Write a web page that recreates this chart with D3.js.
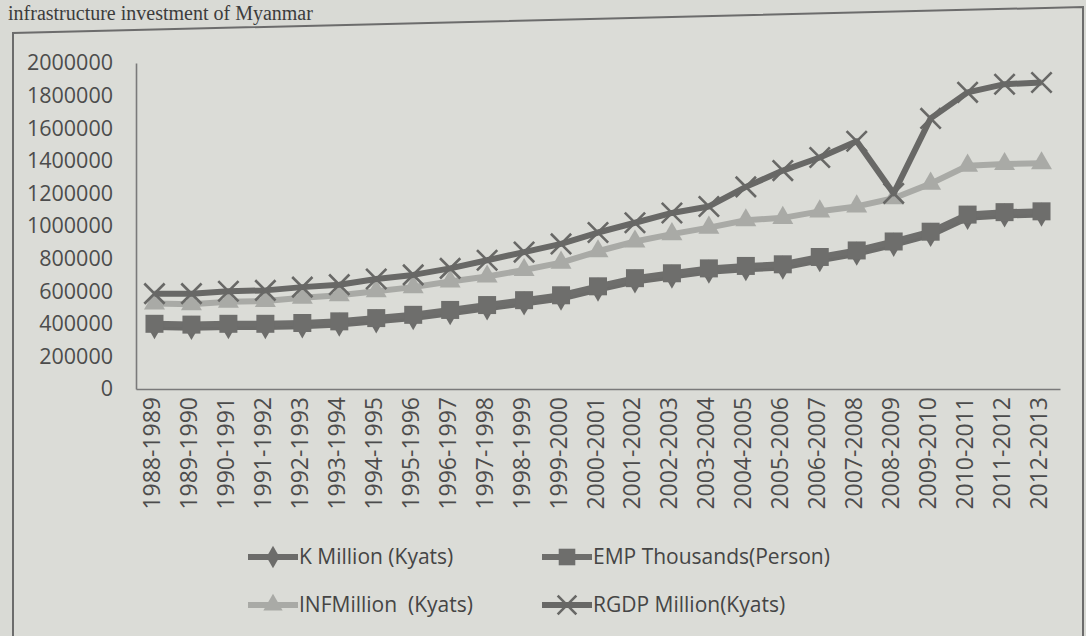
<!DOCTYPE html>
<html>
<head>
<meta charset="utf-8">
<script src="https://cdn.jsdelivr.net/npm/d3@7"></script>
<style>
  html, body { margin: 0; padding: 0; background: #d8d9d4; }
  svg { display: block; }
</style>
</head>
<body>
<script>
const categories = ["1988-1989","1989-1990","1990-1991","1991-1992","1992-1993","1993-1994","1994-1995","1995-1996","1996-1997","1997-1998","1998-1999","1999-2000","2000-2001","2001-2002","2002-2003","2003-2004","2004-2005","2005-2006","2006-2007","2007-2008","2008-2009","2009-2010","2010-2011","2011-2012","2012-2013"];
const kMillion = [380000,375000,380000,380000,385000,395000,415000,435000,465000,495000,525000,555000,610000,660000,690000,720000,735000,745000,790000,830000,885000,945000,1050000,1065000,1070000];
const empThousands = [400000,395000,400000,400000,405000,415000,435000,455000,485000,515000,545000,575000,630000,680000,710000,740000,755000,765000,810000,850000,905000,965000,1070000,1085000,1090000];
const infMillion = [525000,520000,535000,540000,560000,575000,600000,625000,660000,690000,730000,775000,845000,905000,950000,990000,1035000,1050000,1090000,1120000,1170000,1260000,1370000,1380000,1385000];
const rgdpMillion = [585000,585000,600000,605000,625000,640000,675000,700000,740000,790000,840000,890000,960000,1020000,1080000,1120000,1240000,1340000,1420000,1520000,1200000,1660000,1820000,1870000,1880000];
const yTicks = [0,200000,400000,600000,800000,1000000,1200000,1400000,1600000,1800000,2000000];
const seriesNames = ["K Million (Kyats)","EMP Thousands(Person)","INFMillion  (Kyats)","RGDP Million(Kyats)"];

const W = 1086, H = 636;
const svg = d3.select("body").append("svg").attr("width", W).attr("height", H);

// page background + header text fragment
svg.append("rect").attr("width", W).attr("height", H).attr("fill", "#d9dad5");
svg.append("text").attr("x", 8).attr("y", 20)
  .attr("font-family", "Liberation Serif, serif").attr("font-size", 20)
  .attr("fill", "#3c3c3c").text("infrastructure investment of Myanmar");

// chart frame
svg.append("path")
  .attr("d", "M13,640 L13,33 L1083,7 L1083,640")
  .attr("fill", "#dbdcd7").attr("stroke", "#6c6c6c").attr("stroke-width", 2);

const x = d3.scalePoint().domain(categories).range([136, 1060]).padding(0.5);
const y = d3.scaleLinear().domain([0, 2000000]).range([389, 63]);

const font = "Open Sans, Liberation Sans, sans-serif";

// Y axis
const gy = svg.append("g").attr("transform", "translate(136,0)")
  .call(d3.axisLeft(y).tickValues(yTicks).tickFormat(d3.format("d")).tickSize(0).tickPadding(23));
gy.select(".domain").attr("stroke", "#7a7a7a").attr("stroke-width", 1.6);
gy.selectAll("text").attr("font-family", font).attr("font-size", 21.5).attr("fill", "#4c4c4c");

// X axis
const gx = svg.append("g").attr("transform", "translate(0,389)")
  .call(d3.axisBottom(x).tickSize(0).tickSizeOuter(0));
gx.select(".domain").attr("stroke", "#7a7a7a").attr("stroke-width", 1.6);
gx.selectAll("text")
  .attr("font-family", font).attr("font-size", 23).attr("fill", "#4c4c4c")
  .attr("text-anchor", "end").attr("dy", null).attr("y", 0)
  .attr("transform", "translate(-3,8) rotate(-90) translate(0,8)");

const series = [
  {name: seriesNames[0], values: kMillion, color: "#6c6c6a", sym: d3.symbolDiamond, size: 170, filled: true},
  {name: seriesNames[1], values: empThousands, color: "#6e6e6c", sym: d3.symbolSquare, size: 324, filled: true},
  {name: seriesNames[2], values: infMillion, color: "#a9aaa6", sym: d3.symbolTriangle, size: 190, filled: true},
  {name: seriesNames[3], values: rgdpMillion, color: "#686866", sym: d3.symbolTimes || d3.symbolCross, size: 270, filled: false}
];

const line = d3.line().x((d, i) => x(categories[i])).y(d => y(d));

series.forEach(s => {
  const g = svg.append("g");
  g.append("path").datum(s.values).attr("d", line)
    .attr("fill", "none").attr("stroke", s.color).attr("stroke-width", 6)
    .attr("stroke-linejoin", "round");
  g.selectAll("path.m").data(s.values).join("path").attr("class", "m")
    .attr("transform", (d, i) => `translate(${x(categories[i])},${y(d)})`)
    .attr("d", d3.symbol(s.sym, s.size))
    .attr("fill", s.filled ? s.color : "none")
    .attr("stroke", s.filled ? "none" : s.color)
    .attr("stroke-width", s.filled ? 0 : 2.6);
});

// Legend
const legPos = [[248, 557], [542, 557], [248, 605], [542, 605]];
series.forEach((s, i) => {
  const [lx, ly] = legPos[i];
  const g = svg.append("g").attr("transform", `translate(${lx},${ly})`);
  g.append("line").attr("x1", 0).attr("x2", 50).attr("y1", 0).attr("y2", 0)
    .attr("stroke", s.color).attr("stroke-width", 6);
  g.append("path").attr("transform", "translate(25,0)")
    .attr("d", d3.symbol(s.sym, s.size * 0.85))
    .attr("fill", s.filled ? s.color : "none")
    .attr("stroke", s.filled ? "none" : s.color)
    .attr("stroke-width", s.filled ? 0 : 2.6);
  g.append("text").attr("x", 51).attr("y", 0).attr("dy", "0.35em")
    .attr("font-family", font).attr("font-size", 21).attr("fill", "#454545")
    .attr("xml:space", "preserve").style("white-space", "pre")
    .text(s.name);
});
</script>
</body>
</html>
